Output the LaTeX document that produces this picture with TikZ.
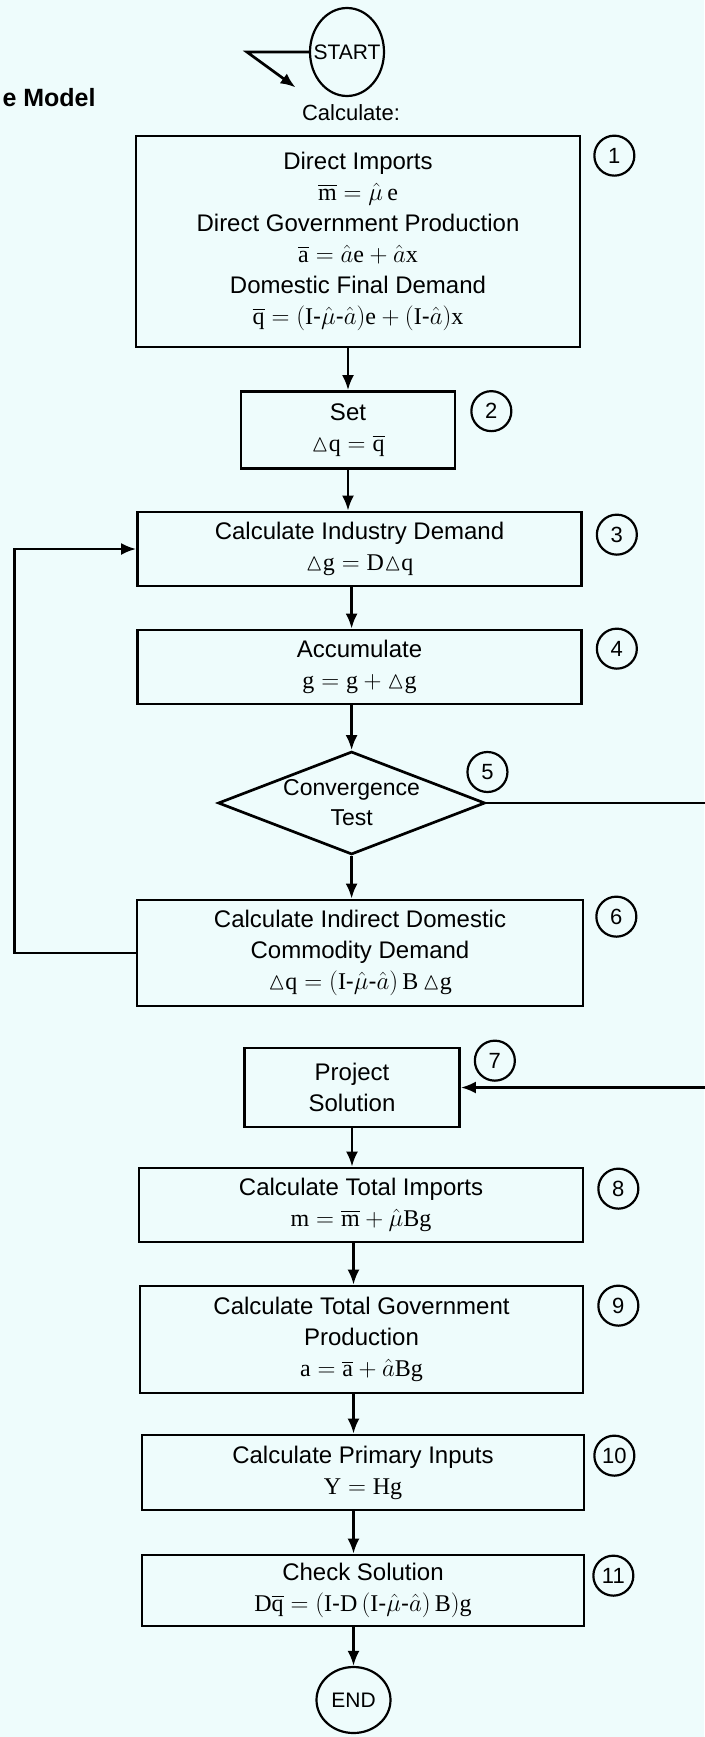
\documentclass[tikz,border=0pt]{standalone}
\usepackage{amsmath}
\usepackage{amssymb}
\usepackage{fontspec}
\setmainfont{Liberation Serif}
\setsansfont{Liberation Sans}
\usetikzlibrary{arrows.meta,backgrounds,shapes.geometric}
\usepackage{xcolor}
\definecolor{paper}{RGB}{238,252,252}
\newcommand{\muhat}{\ensuremath{\hat{\mu}}}
\newcommand{\ahat}{\ensuremath{\hat{a}}}
\newcommand{\incr}{\ensuremath{\mathord{\vartriangle}}}
\newcommand{\mbar}{\ensuremath{\overline{\mathrm{m}}}}
\newcommand{\abar}{\ensuremath{\overline{\mathrm{a}}}}
\newcommand{\qbar}{\ensuremath{\overline{\mathrm{q}}}}
\newcommand{\imin}{\ensuremath{\mathrm{I}\text{-}}}

\begin{document}
\begin{tikzpicture}[%
    x=1pt, y=-1pt,%
    show background rectangle,%
    tight background,%
    background rectangle/.style={fill=paper},%
    stepbox/.style={draw, line width=2.7pt, align=center, inner sep=0pt,%
      font=\sffamily\fontsize{24}{31}\selectfont},%
    stepnum/.style={circle, draw, line width=2.2pt, minimum size=40pt, inner sep=0pt,%
      font=\sffamily\fontsize{22}{22}\selectfont},%
    terminal/.style={ellipse, draw, line width=2.2pt, inner xsep=-12pt, inner ysep=0pt,%
      minimum width=74pt, font=\sffamily\fontsize{21}{21}\selectfont},%
    flow/.style={line width=2.7pt, -{Latex[length=15pt,width=12pt]}}%
  ]
  \useasboundingbox (0,0) rectangle (704,1737);%

  % Nodes
  \node[anchor=west, font=\sffamily\bfseries\fontsize{25}{25}\selectfont] (title) at (-1,98) {e Model};%
  \node[terminal, minimum height=88pt] (start) at (347,52) {START};%
  \node[font=\sffamily\fontsize{22}{22}\selectfont] (calc) at (351,113) {Calculate:};%

  \node[stepbox, minimum width=444pt, minimum height=211pt] (b1) at (358,241.5)
    {Direct Imports\\ $\mbar = \muhat\,\mathrm{e}$\\ Direct Government Production\\
     $\abar = \ahat\mathrm{e} + \ahat\mathrm{x}$\\ Domestic Final Demand\\
     $\qbar = (\imin\muhat\text{-}\ahat)\mathrm{e} + (\imin\ahat)\mathrm{x}$};%
  \node[stepbox, minimum width=214pt, minimum height=77pt] (b2) at (348,430)
    {Set\\ $\incr\mathrm{q} = \qbar$};%
  \node[stepbox, minimum width=444pt, minimum height=74pt] (b3) at (359.5,549)
    {Calculate Industry Demand\\ $\incr\mathrm{g} = \mathrm{D}\incr\mathrm{q}$};%
  \node[stepbox, minimum width=444pt, minimum height=74pt] (b4) at (359.5,667)
    {Accumulate\\ $\mathrm{g} = \mathrm{g} + \incr\mathrm{g}$};%
  \node[stepbox, diamond, aspect=2.6, inner sep=-3pt, minimum width=267pt, minimum height=103pt,%
    font=\sffamily\fontsize{23}{30}\selectfont] (d5) at (351.6,803) {Convergence\\ Test};%
  \node[stepbox, minimum width=446pt, minimum height=106pt] (b6) at (360,953)
    {Calculate Indirect Domestic\\ Commodity Demand\\
     $\incr\mathrm{q} = (\imin\muhat\text{-}\ahat)\,\mathrm{B}\,\incr\mathrm{g}$};%
  \node[stepbox, minimum width=215pt, minimum height=79pt] (b7) at (352,1087.5)
    {Project\\ Solution};%
  \node[stepbox, minimum width=444pt, minimum height=74pt] (b8) at (361,1205)
    {Calculate Total Imports\\ $\mathrm{m} = \mbar + \muhat\mathrm{Bg}$};%
  \node[stepbox, minimum width=443pt, minimum height=107pt] (b9) at (361.5,1339.5)
    {Calculate Total Government\\ Production\\ $\mathrm{a} = \abar + \ahat\mathrm{Bg}$};%
  \node[stepbox, minimum width=442pt, minimum height=75pt] (b10) at (363,1472.5)
    {Calculate Primary Inputs\\ $\mathrm{Y} = \mathrm{Hg}$};%
  \node[stepbox, minimum width=442pt, minimum height=71pt] (b11) at (363,1590.5)
    {Check Solution\\ $\mathrm{D}\qbar = (\imin\mathrm{D}\,(\imin\muhat\text{-}\ahat)\,\mathrm{B})\mathrm{g}$};%
  \node[terminal, minimum height=66pt] (stop) at (353.5,1700) {END};%

  % Step numbers
  \node[stepnum] (n1) at ([shift={(33,21)}]b1.north east) {1};%
  \node[stepnum] (n2) at ([shift={(35,21)}]b2.north east) {2};%
  \node[stepnum] (n3) at ([shift={(34,24)}]b3.north east) {3};%
  \node[stepnum] (n4) at ([shift={(34,20)}]b4.north east) {4};%
  \node[stepnum] (n5) at ([shift={(1,-31)}]d5.east) {5};%
  \node[stepnum] (n6) at ([shift={(32,18)}]b6.north east) {6};%
  \node[stepnum] (n7) at ([shift={(34,14)}]b7.north east) {7};%
  \node[stepnum] (n8) at ([shift={(34,22)}]b8.north east) {8};%
  \node[stepnum] (n9) at ([shift={(34,21)}]b9.north east) {9};%
  \node[stepnum] (n10) at ([shift={(29,22)}]b10.north east) {10};%
  \node[stepnum] (n11) at ([shift={(28,22)}]b11.north east) {11};%

  % Lines
  \draw[flow] (start.west) -- ++(-62,0) -- ([shift={(-3,-14)}]calc.north west);%
  \draw[flow] (b1.south -| b2) -- (b2);%
  \draw[flow] (b2) -- (b2 |- b3.north);%
  \draw[flow] (b3.south -| d5) -- (d5 |- b4.north);%
  \draw[flow] (b4.south -| d5) -- (d5);%
  \draw[flow] (d5) -- (d5 |- b6.north);%
  \draw[flow] (b7) -- (b7 |- b8.north);%
  \draw[flow] (b8.south -| stop) -- (stop |- b9.north);%
  \draw[flow] (b9.south -| stop) -- (stop |- b10.north);%
  \draw[flow] (b10.south -| stop) -- (stop |- b11.north);%
  \draw[flow] (b11.south -| stop) -- (stop);%

  % Loops
  \draw[flow] (b6.west) -- ++(-121,0) |- (b3.west);%
  \draw[flow] (d5.east) -- ++(235,0) |- (b7.east);%
\end{tikzpicture}
\end{document}
